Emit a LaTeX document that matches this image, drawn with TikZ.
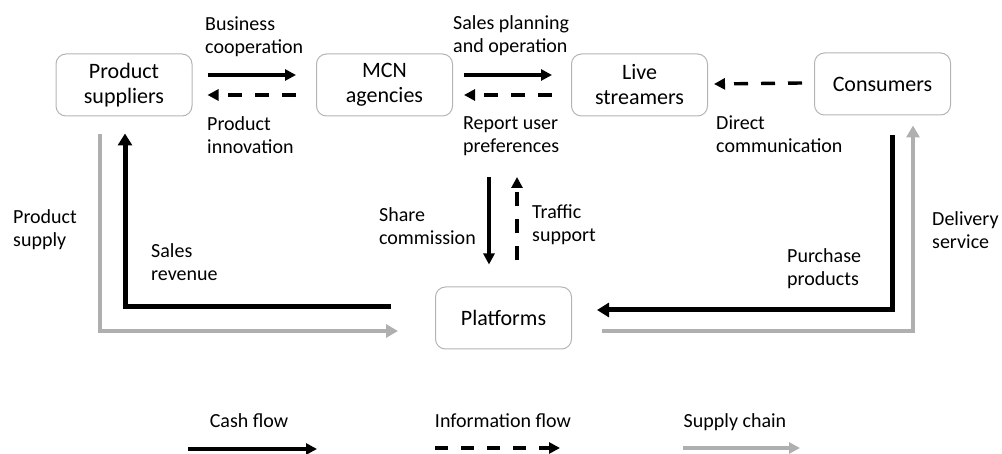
\documentclass[tikz,border=0pt]{standalone}
\usepackage{fontspec}
\setmainfont{Carlito}
\usetikzlibrary{arrows.meta}
\definecolor{boxline}{HTML}{B4B4B4}
\definecolor{supply}{HTML}{AFAFAF}
\begin{document}
\begin{tikzpicture}[x=1pt,y=-1pt,
  box/.style={draw=boxline, line width=1pt, rounded corners=10pt, minimum width=136pt, minimum height=62pt, align=center, inner sep=0pt, font=\fontsize{22}{25}\selectfont},
  lab/.style={font=\fontsize{20}{23}\selectfont, align=left, inner sep=0pt},
  leg/.style={font=\fontsize{20}{23}\selectfont, inner sep=0pt, anchor=base},
  cash/.style={line width=3.4pt, -{Triangle[length=11pt,width=11pt]}},
  info/.style={line width=3.4pt, dash pattern=on 14pt off 13pt, -{Triangle[length=11pt,width=11pt]}},
  cashbig/.style={line width=5pt, -{Triangle[length=12pt,width=14pt]}},
  supbig/.style={draw=supply, line width=4pt, -{Triangle[length=12pt,width=13pt]}},
  sup/.style={draw=supply, line width=3.4pt, -{Triangle[length=11pt,width=11pt]}}
]
\useasboundingbox (0,0) rectangle (1002,454);

% boxes
\node[box] (ps)  at (124,85)   {Product\\suppliers};
\node[box] (mcn) at (384.5,85) {MCN\\agencies};
\node[box] (ls)  at (639.5,85) {Live\\streamers};
\node[box] (con) at (882.5,84) {Consumers};
\node[box] (pl)  at (503.5,318) {Platforms};

% top row connectors
\draw[cash] ([xshift=15pt,yshift=10pt]ps.east) -- ([xshift=-20pt,yshift=10pt]mcn.west);
\draw[info] ([xshift=-20pt,yshift=-10pt]mcn.west) -- ([xshift=15pt,yshift=-10pt]ps.east);
\draw[cash] ([xshift=11pt,yshift=10pt]mcn.east) -- ([xshift=-19pt,yshift=10pt]ls.west);
\draw[info] ([xshift=-19pt,yshift=-10pt]ls.west) -- ([xshift=11pt,yshift=-10pt]mcn.east);
\draw[info] ([xshift=-12pt,yshift=1pt]con.west) -- ([xshift=6pt,yshift=1pt]ls.east);

% vertical between MCN / streamers and platforms
\coordinate (sctop) at (489,177);
\coordinate (tstop) at (517,177);
\draw[cash] (sctop) -- ([xshift=-14.5pt,yshift=22pt]pl.north);
\draw[info] ([xshift=13.5pt,yshift=26pt]pl.north) -- (tstop);

% big L-shaped flows
\draw[cashbig] ([xshift=-44pt,yshift=11pt]pl.west) -| ([xshift=1pt,yshift=-17pt]ps.south);
\draw[supbig] ([xshift=-24pt,yshift=-18pt]ps.south) |- ([xshift=-37pt,yshift=-13pt]pl.west);
\draw[cashbig] ([xshift=9.5pt,yshift=-20pt]con.south) |- ([xshift=25pt,yshift=8pt]pl.east);
\draw[supbig] ([xshift=30pt,yshift=-13pt]pl.east) -| ([xshift=30.5pt,yshift=-10pt]con.south);

% labels
\node[lab, anchor=north west] (l1) at (205,17)  {Business\\cooperation};
\node[lab, anchor=north west] (l2) at (207,116) {Product\\innovation};
\node[lab, anchor=north west] (l3) at (453,15)  {Sales planning\\and operation};
\node[lab, anchor=north west] (l4) at (463,116) {Report user\\preferences};
\node[lab, anchor=north west] (l5) at (716,116) {Direct\\communication};
\node[lab, anchor=north west] (l6) at (13,209)  {Product\\supply};
\node[lab, anchor=north west] (l7) at (151,243) {Sales\\revenue};
\node[lab, anchor=north east] (l8) at (476,207) {Share\\commission};
\node[lab, anchor=north west] (l9) at (532,204) {Traffic\\support};
\node[lab, anchor=north west] (l10) at (787,248) {Purchase\\products};
\node[lab, anchor=north west] (l11) at (932,211) {Delivery\\service};

% legend
\node[leg] (lgc) at (249,428) {Cash flow};
\node[leg] (lgi) at (503,428) {Information flow};
\node[leg] (lgs) at (735,428) {Supply chain};
\draw[cash] ([xshift=-61pt,yshift=-21pt]lgc.base) -- ([xshift=68pt,yshift=-21pt]lgc.base);
\draw[info, dash pattern=on 13pt off 13pt] ([xshift=-68pt,yshift=-20pt]lgi.base) -- ([xshift=57pt,yshift=-20pt]lgi.base);
\draw[sup] ([xshift=-52pt,yshift=-20pt]lgs.base) -- ([xshift=65pt,yshift=-20pt]lgs.base);
\end{tikzpicture}
\end{document}
